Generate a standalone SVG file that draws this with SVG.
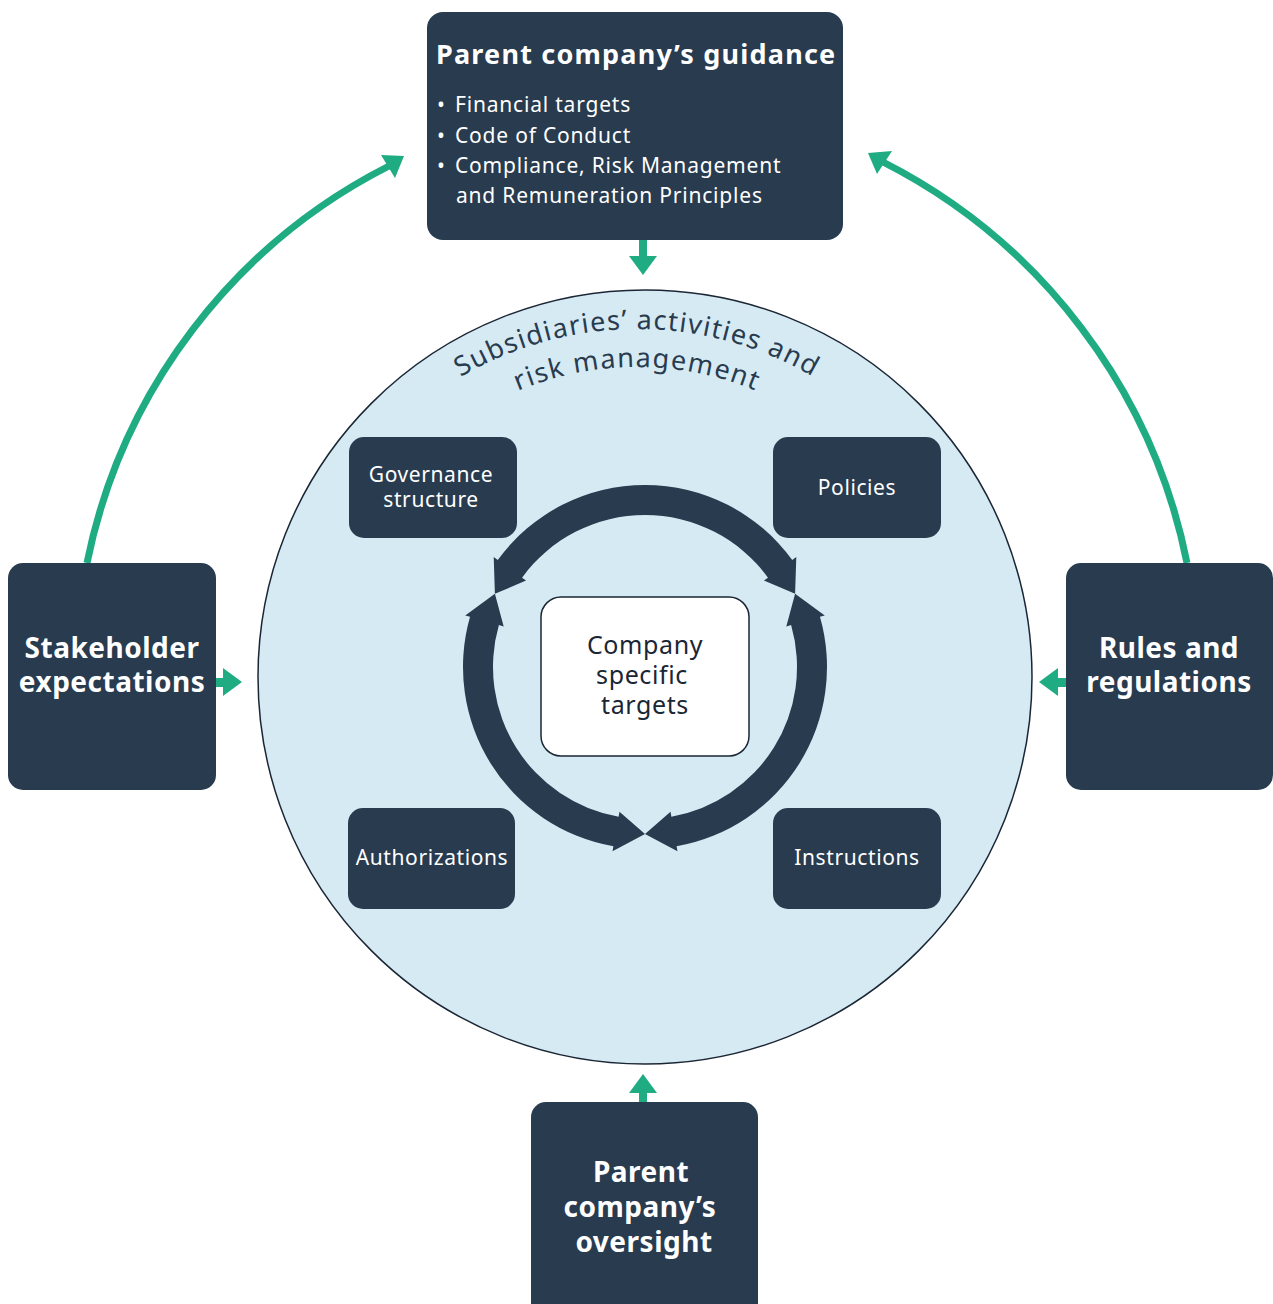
<svg xmlns="http://www.w3.org/2000/svg" width="1273" height="1304" viewBox="0 0 1273 1304">
<defs>
<style>
.box{fill:#283b4f;}
.inbox{fill:#283b4f;}
.g{fill:#1fac82;}
.gl{fill:none;stroke:#1fac82;stroke-width:7;}
.t{font-family:"Noto Sans","Open Sans","Liberation Sans",sans-serif;fill:#ffffff;}
.big{font-size:28px;font-weight:bold;text-anchor:middle;letter-spacing:0.5px;}
.ttl{font-size:27px;font-weight:bold;letter-spacing:1.2px;}
.bul{font-size:21px;letter-spacing:0.8px;}
.sm{font-size:21px;text-anchor:middle;letter-spacing:0.6px;}
.ctr{font-family:"Noto Sans","Open Sans","Liberation Sans",sans-serif;fill:#1b2635;font-size:25px;text-anchor:middle;letter-spacing:0.6px;}
.arc{font-family:"Noto Sans","Open Sans","Liberation Sans",sans-serif;fill:#283b4f;font-size:27px;letter-spacing:1.4px;}
.ring{fill:#283b4f;}
</style>
<path id="arc1" d="M 310,558 A 348 348 0 0 1 964,558"/>
<path id="arc2" d="M 345.7,571 A 310 310 0 0 1 928.3,571"/>
</defs>
<rect width="1273" height="1304" fill="#ffffff"/>

<g id="circle-area">
<circle cx="645" cy="677" r="387" fill="#d6eaf4" stroke="#1b2635" stroke-width="1.5"/>
<text class="arc"><textPath href="#arc1" startOffset="50%" text-anchor="middle">Subsidiaries’ activities and</textPath></text>
<text class="arc"><textPath href="#arc2" startOffset="50%" text-anchor="middle">risk management</textPath></text>
</g>

<g id="connectors">
<path class="gl" d="M 87,563 A 572 572 0 0 1 389,166"/>
<polygon class="g" points="404,156 381,155 395,178"/>
<path class="gl" d="M 1187,563 A 576 576 0 0 0 883,162"/>
<polygon class="g" points="868,153 892,151 877,174"/>
<rect class="g" x="639" y="238" width="8" height="20"/>
<polygon class="g" points="629,256 657,256 643,275"/>
<rect class="g" x="214" y="678" width="11" height="9"/>
<polygon class="g" points="223,668 223,696 242,682"/>
<rect class="g" x="1056" y="678" width="11" height="9"/>
<polygon class="g" points="1058,668 1058,696 1039,682"/>
<rect class="g" x="639" y="1091" width="8" height="12"/>
<polygon class="g" points="629,1093 657,1093 643,1074"/>
</g>

<g id="cycle-arrows">
<path class="ring" d="M 497.76,560.02 A 182 182 0 0 1 792.24,560.02 L 796.29,557.08 L 795.10,593.79 L 763.93,580.59 L 767.97,577.66 A 152 152 0 0 0 522.03,577.66 L 526.07,580.59 L 494.90,593.79 L 493.71,557.08 Z"/>
<path class="ring" d="M 470.05,616.83 A 182 182 0 0 0 613.40,846.24 L 612.53,851.16 L 645,834 L 619.47,811.77 L 618.61,816.69 A 152 152 0 0 1 498.89,625.10 L 503.69,626.48 L 494.90,593.79 L 465.24,615.45 Z"/>
<path class="ring" d="M 819.95,616.83 A 182 182 0 0 1 676.60,846.24 L 677.47,851.16 L 645,834 L 670.53,811.77 L 671.39,816.69 A 152 152 0 0 0 791.11,625.10 L 786.31,626.48 L 795.10,593.79 L 824.76,615.45 Z"/>
</g>

<g id="guidance">
<rect class="box" x="427" y="12" width="416" height="228" rx="16"/>
<text class="t ttl" x="436" y="64">Parent company’s guidance</text>
<text class="t bul" x="437" y="112">•<tspan x="455">Financial targets</tspan></text>
<text class="t bul" x="437" y="143">•<tspan x="455">Code of Conduct</tspan></text>
<text class="t bul" x="437" y="173">•<tspan x="455">Compliance, Risk Management</tspan></text>
<text class="t bul" x="456" y="203">and Remuneration Principles</text>
</g>

<g id="stakeholder">
<rect class="box" x="8" y="563" width="208" height="227" rx="15"/>
<text class="t big" x="112" y="658">Stakeholder</text>
<text class="t big" x="112" y="692">expectations</text>
</g>

<g id="rules">
<rect class="box" x="1066" y="563" width="207" height="227" rx="15"/>
<text class="t big" x="1169" y="658">Rules and</text>
<text class="t big" x="1169" y="692">regulations</text>
</g>

<g id="oversight">
<rect class="box" x="531" y="1102" width="227" height="230" rx="15"/>
<text class="t big" x="641" y="1182">Parent</text>
<text class="t big" x="640" y="1217">company’s</text>
<text class="t big" x="644" y="1252">oversight</text>
</g>

<g id="governance">
<rect class="inbox" x="349" y="437" width="168" height="101" rx="15"/>
<text class="t sm" x="431" y="482">Governance</text>
<text class="t sm" x="431" y="507">structure</text>
</g>

<g id="policies">
<rect class="inbox" x="773" y="437" width="168" height="101" rx="15"/>
<text class="t sm" x="857" y="495">Policies</text>
</g>

<g id="authorizations">
<rect class="inbox" x="348" y="808" width="167" height="101" rx="15"/>
<text class="t sm" x="432" y="865">Authorizations</text>
</g>

<g id="instructions">
<rect class="inbox" x="773" y="808" width="168" height="101" rx="15"/>
<text class="t sm" x="857" y="865">Instructions</text>
</g>

<g id="company-targets">
<rect x="541" y="597" width="208" height="159" rx="20" fill="#ffffff" stroke="#1b2635" stroke-width="1.5"/>
<text class="ctr" x="645" y="654">Company</text>
<text class="ctr" x="642" y="684">specific</text>
<text class="ctr" x="645" y="714">targets</text>
</g>
</svg>
